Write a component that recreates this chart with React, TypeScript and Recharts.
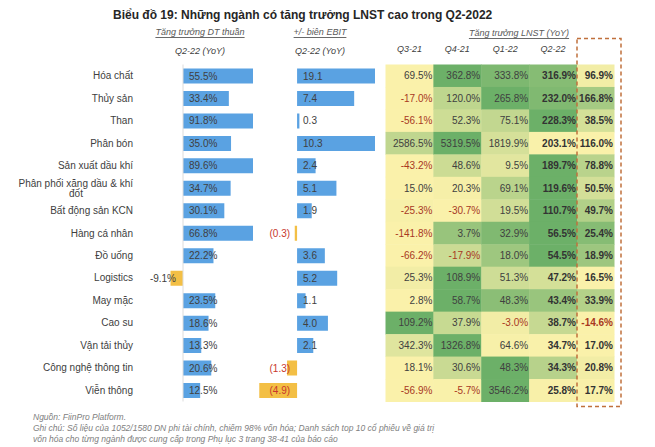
import {
  Bar,
  BarChart,
  Cell,
  LabelList,
  ReferenceLine,
  Scatter,
  ScatterChart,
  XAxis,
  YAxis,
} from 'recharts'

const sectors = [
  'Hóa chất',
  'Thủy sản',
  'Than',
  'Phân bón',
  'Sản xuất dầu khí',
  'Phân phối xăng dầu & khí đốt',
  'Bất động sản KCN',
  'Hàng cá nhân',
  'Đồ uống',
  'Logistics',
  'May mặc',
  'Cao su',
  'Vận tải thủy',
  'Công nghệ thông tin',
  'Viễn thông',
]

// Q2-22 revenue growth (YoY, %)
const revenueGrowth = [55.5, 33.4, 91.8, 35.0, 89.6, 34.7, 30.1, 66.8, 22.2, -9.1, 23.5, 18.6, 13.3, 20.6, 12.5]
// Q2-22 change of EBIT margin (pp)
const ebitChange = [19.1, 7.4, 0.3, 10.3, 2.4, 5.1, 1.9, -0.3, 3.6, 5.2, 1.1, 4.0, 2.1, -1.3, -4.9]

// net profit growth (YoY, %)
const quarters = ['Q3-21', 'Q4-21', 'Q1-22', 'Q2-22']
const profitQ321 = [69.5, -17.0, -56.1, 2586.5, -43.2, 15.0, -25.3, -141.8, -66.2, 25.3, 2.8, 109.2, 342.3, 18.1, -56.9]
const profitQ421 = [362.8, 120.0, 52.3, 5319.5, 48.6, 20.3, -30.7, 3.7, -17.9, 108.9, 58.7, 37.9, 1326.8, 30.6, -5.7]
const profitQ122 = [333.8, 265.8, 75.1, 1819.9, 9.5, 69.1, 19.5, 32.9, 18.0, 51.3, 48.3, -3.0, 64.6, 48.3, 3546.2]
const profitQ222 = [316.9, 232.0, 228.3, 203.1, 189.7, 119.6, 110.7, 56.5, 54.5, 47.2, 43.4, 38.7, 34.7, 34.3, 25.8]
const forecastLabel = '2022F'
const profit2022F = [96.9, 166.8, 38.5, 116.0, 78.8, 50.5, 49.7, 25.4, 18.9, 16.5, 33.9, -14.6, 17.0, 20.8, 17.7]

const FONT = '"Liberation Sans", Arial, sans-serif'
const TXT = '#404040'
const NEG_HEAT = '#a8381f'
const NEG_EBIT = '#c8372d'
const BLUE = '#5aa2e2'
const GOLD = '#f3bf45'
const BOLD_COLS = ['Q2-22', forecastLabel]

const H = 447
const TOP = 64.5
const BOTTOM = 45.5
const ROW_H = (H - TOP - BOTTOM) / sectors.length

const quarterSeries = [profitQ321, profitQ421, profitQ122, profitQ222]

// row-wise yellow -> green colour scale
const YELLOW = [250, 241, 170]
const GREEN = [108, 176, 104]
function heatColor(row: number, v: number) {
  const all = [...quarterSeries.map((s) => s[row]), profit2022F[row]]
  const lo = Math.min(...all)
  const hi = Math.max(...all)
  const t = hi === lo ? 0 : Math.pow((v - lo) / (hi - lo), 1.2)
  const c = YELLOW.map((y, i) => Math.round(y + (GREEN[i] - y) * t))
  return `rgb(${c[0]},${c[1]},${c[2]})`
}

const dtData = sectors.map((name, i) => ({ name, v: revenueGrowth[i] }))
const ebitData = sectors.map((name, i) => ({ name, v: ebitChange[i] }))

const quarterCells = quarters.flatMap((q, qi) =>
  sectors.map((name, i) => ({ q, name, v: quarterSeries[qi][i], fill: heatColor(i, quarterSeries[qi][i]) }))
)
const forecastCells = sectors.map((name, i) => ({
  q: forecastLabel,
  name,
  v: profit2022F[i],
  fill: heatColor(i, profit2022F[i]),
}))

const SectorTick = (props: any) => {
  const { y, payload } = props
  const label: string = payload.value
  if (label.length > 24) {
    const cut = label.lastIndexOf(' ')
    return (
      <g fontFamily={FONT} fontSize={10} fill={TXT}>
        <text x={133} y={y - 5} textAnchor="end" dominantBaseline="central">
          {label.slice(0, cut)}
        </text>
        <text x={76} y={y + 5} textAnchor="middle" dominantBaseline="central">
          {label.slice(cut + 1)}
        </text>
      </g>
    )
  }
  return (
    <text x={133} y={y} textAnchor="end" dominantBaseline="central" fontFamily={FONT} fontSize={10} fill={TXT}>
      {label}
    </text>
  )
}

const QuarterTick = (props: any) => {
  const { x, payload } = props
  const isF = payload.value === forecastLabel
  return (
    <text
      x={x}
      y={49}
      textAnchor="middle"
      dominantBaseline="central"
      fontFamily={FONT}
      fontSize={9}
      fontStyle="italic"
      fontWeight={isF ? 700 : 400}
      fill={TXT}
    >
      {payload.value}
    </text>
  )
}

function barBase(x: number, width: number, value: number) {
  return value >= 0 ? Math.min(x, x + width) : Math.max(x, x + width)
}

const DtLabel = (props: any) => {
  const { x, y, width, height, value } = props
  const v = Number(value)
  const base = barBase(Number(x), Number(width), v)
  return (
    <text
      x={v >= 0 ? base + 6 : base - 7}
      y={Number(y) + Number(height) / 2}
      textAnchor={v >= 0 ? 'start' : 'end'}
      dominantBaseline="central"
      fontFamily={FONT}
      fontSize={10}
      fill={TXT}
    >
      {`${v.toFixed(1)}%`}
    </text>
  )
}

const EbitLabel = (props: any) => {
  const { x, y, width, height, value } = props
  const v = Number(value)
  const base = barBase(Number(x), Number(width), v)
  return (
    <text
      x={v >= 0 ? base + 6 : base - 7}
      y={Number(y) + Number(height) / 2}
      textAnchor={v >= 0 ? 'start' : 'end'}
      dominantBaseline="central"
      fontFamily={FONT}
      fontSize={10}
      fill={v >= 0 ? TXT : NEG_EBIT}
    >
      {v >= 0 ? v.toFixed(1) : `(${Math.abs(v).toFixed(1)})`}
    </text>
  )
}

function makeHeatCell(colW: number) {
  return (props: any) => {
    const { cx, cy, payload } = props
    const v: number = payload.v
    const bold = BOLD_COLS.includes(payload.q)
    return (
      <g>
        <rect x={cx - colW / 2} y={cy - ROW_H / 2} width={colW + 0.5} height={ROW_H + 0.5} fill={payload.fill} />
        <text
          x={cx + colW / 2 - 1}
          y={cy}
          textAnchor="end"
          dominantBaseline="central"
          fontFamily={FONT}
          fontSize={10}
          fontWeight={bold ? 700 : 400}
          fill={v < 0 ? NEG_HEAT : bold ? '#333' : TXT}
        >
          {`${v.toFixed(1)}%`}
        </text>
      </g>
    )
  }
}

const QUARTER_W = (577 - 385.5) / quarters.length
const FORECAST_W = 614 - 577

const headStyle = { fontFamily: FONT, fontSize: 9, fontStyle: 'italic' as const, fill: '#595959' }

export default function App() {
  return (
    <div
      style={{
        position: 'absolute',
        left: 0,
        top: 0,
        width: 655,
        height: H,
        background: '#fff',
        fontFamily: FONT,
        overflow: 'hidden',
      }}
    >
      <div style={{ position: 'absolute', left: 0, top: 0 }}>
        <BarChart
          layout="vertical"
          width={256}
          height={H}
          data={dtData}
          margin={{ top: TOP, right: 3, bottom: BOTTOM, left: 0 }}
          barSize={15}
        >
          <XAxis type="number" domain={[-25, 51]} allowDataOverflow hide />
          <YAxis
            type="category"
            dataKey="name"
            width={148.7}
            axisLine={false}
            tickLine={false}
            interval={0}
            tick={SectorTick}
          />
          <ReferenceLine x={0} stroke="#dcdcdc" strokeWidth={1} />
          <Bar dataKey="v" isAnimationActive={false}>
            {dtData.map((d) => (
              <Cell key={d.name} fill={d.v >= 0 ? BLUE : GOLD} />
            ))}
            <LabelList dataKey="v" content={DtLabel} />
          </Bar>
        </BarChart>
      </div>

      <div style={{ position: 'absolute', left: 256, top: 0 }}>
        <BarChart
          layout="vertical"
          width={124}
          height={H}
          data={ebitData}
          margin={{ top: TOP, right: 5, bottom: BOTTOM, left: 2.5 }}
          barSize={15}
        >
          <XAxis type="number" domain={[-5, 10.1]} allowDataOverflow hide />
          <YAxis type="category" dataKey="name" hide />
          <Bar dataKey="v" isAnimationActive={false}>
            {ebitData.map((d) => (
              <Cell key={d.name} fill={d.v >= 0 ? BLUE : GOLD} />
            ))}
            <LabelList dataKey="v" content={EbitLabel} />
          </Bar>
        </BarChart>
      </div>

      <div style={{ position: 'absolute', left: 380, top: 0 }}>
        <ScatterChart width={200} height={H} margin={{ top: TOP - 20, right: 3, bottom: BOTTOM, left: 5.5 }}>
          <XAxis
            type="category"
            dataKey="q"
            orientation="top"
            height={20}
            allowDuplicatedCategory={false}
            axisLine={false}
            tickLine={false}
            tick={QuarterTick}
          />
          <YAxis type="category" dataKey="name" allowDuplicatedCategory={false} reversed hide />
          <Scatter data={quarterCells} shape={makeHeatCell(QUARTER_W)} isAnimationActive={false} />
        </ScatterChart>
      </div>

      <div style={{ position: 'absolute', left: 577, top: 0 }}>
        <ScatterChart width={40} height={H} margin={{ top: TOP - 20, right: 3, bottom: BOTTOM, left: 0 }}>
          <XAxis
            type="category"
            dataKey="q"
            orientation="top"
            height={20}
            allowDuplicatedCategory={false}
            axisLine={false}
            tickLine={false}
            tick={QuarterTick}
          />
          <YAxis type="category" dataKey="name" allowDuplicatedCategory={false} reversed hide />
          <Scatter data={forecastCells} shape={makeHeatCell(FORECAST_W)} isAnimationActive={false} />
        </ScatterChart>
      </div>

      <svg
        width={655}
        height={H}
        style={{ position: 'absolute', left: 0, top: 0, pointerEvents: 'none' }}
      >
        <text x={113} y={15} dominantBaseline="central" fontFamily={FONT} fontSize={12} fontWeight={700} fill="#262626">
          Biểu đồ 19: Những ngành có tăng trưởng LNST cao trong Q2-2022
        </text>
        <text x={200} y={32} textAnchor="middle" dominantBaseline="central" {...headStyle} textDecoration="underline">
          Tăng trưởng DT thuần
        </text>
        <text x={320} y={32} textAnchor="middle" dominantBaseline="central" {...headStyle} textDecoration="underline">
          +/- biên EBIT
        </text>
        <text x={519} y={33} textAnchor="middle" dominantBaseline="central" {...headStyle} textDecoration="underline">
          Tăng trưởng LNST (YoY)
        </text>
        <text x={200} y={51} textAnchor="middle" dominantBaseline="central" {...headStyle} fill={TXT}>
          Q2-22 (YoY)
        </text>
        <text x={320} y={51} textAnchor="middle" dominantBaseline="central" {...headStyle} fill={TXT}>
          Q2-22 (YoY)
        </text>
        <rect x={577} y={38.5} width={44} height={368} fill="none" stroke="#c0703c" strokeWidth={1.5} strokeDasharray="4 3" />
        <g fontFamily={FONT} fontSize={8.5} fontStyle="italic" fill="#808080">
          <text x={33} y={417} dominantBaseline="central">Nguồn: FiinPro Platform.</text>
          <text x={33} y={428} dominantBaseline="central">
            Ghi chú: Số liệu của 1052/1580 DN phi tài chính, chiếm 98% vốn hóa; Danh sách top 10 cổ phiếu về giá trị
          </text>
          <text x={33} y={439} dominantBaseline="central">
            vốn hóa cho từng ngành được cung cấp trong Phụ lục 3 trang 38-41 của báo cáo
          </text>
        </g>
      </svg>
    </div>
  )
}
